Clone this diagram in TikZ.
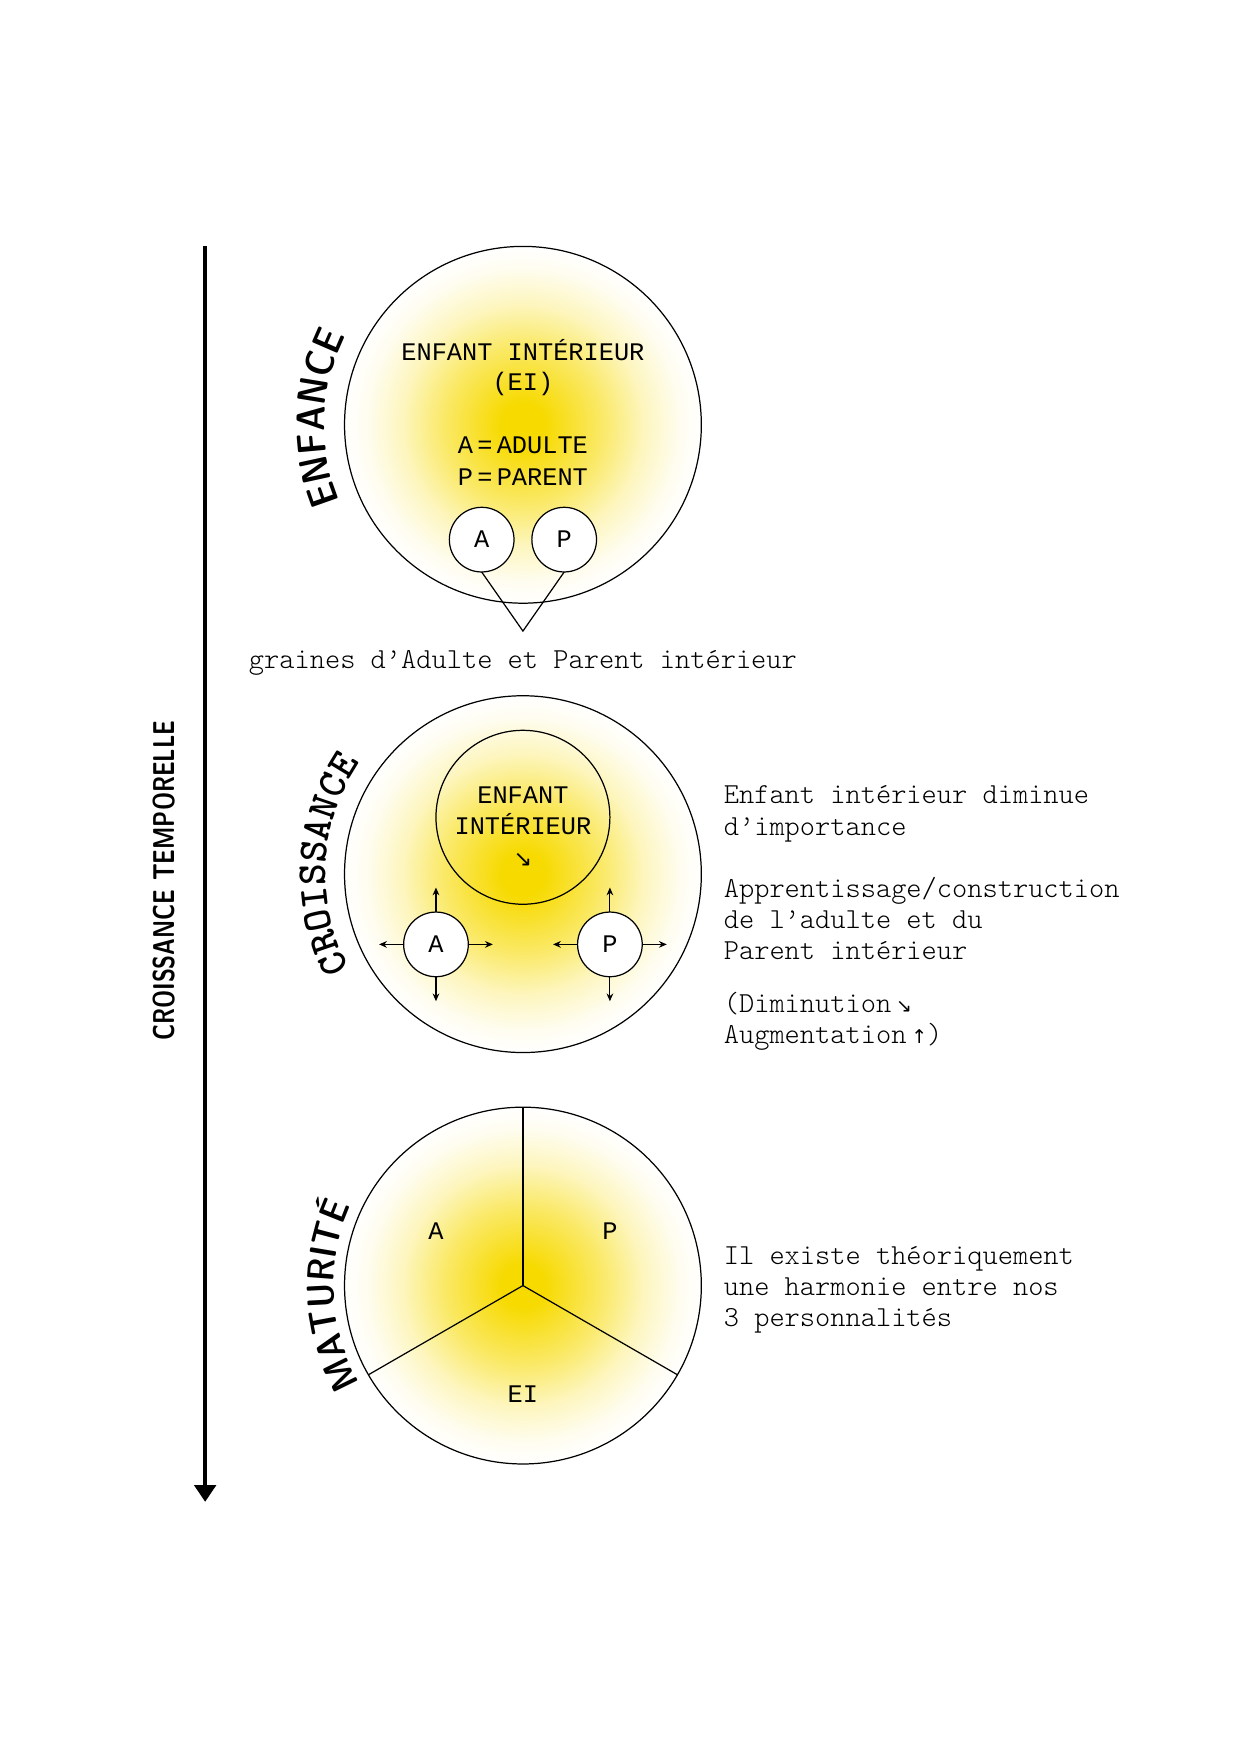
\documentclass[tikz,border=0pt]{standalone}
\usepackage{fontspec}
\newfontfamily\djv{DejaVu Sans}
\newfontfamily\capmono{Liberation Mono}
\usetikzlibrary{arrows.meta,decorations.text}
\definecolor{sun}{RGB}{247,218,0}
\pgfdeclareradialshading{glow}{\pgfpoint{0bp}{0bp}}{color(0bp)=(sun); color(3bp)=(sun); color(11bp)=(sun!60!white); color(17bp)=(sun!25!white); color(22bp)=(sun!6!white); color(25bp)=(white); color(50bp)=(white)}
\newcommand\monofont{\ttfamily\fontseries{l}\fontsize{26}{28}\selectfont}
\newcommand\capfont{\capmono\fontsize{22.7}{28}\selectfont}
\newcommand\arrfont{\djv\fontsize{17}{17}\selectfont}
\begin{document}
\begin{tikzpicture}[x=1pt,y=1pt,
  bigc/.style={circle,draw,line width=1.1pt,minimum size=320pt,inner sep=0pt,outer sep=0pt,shade,shading=glow},
  midc/.style={circle,draw,line width=1.1pt,minimum size=156pt,inner sep=0pt,outer sep=0pt},
  smallc/.style={circle,draw,line width=1.1pt,fill=white,minimum size=58pt,inner sep=0pt,outer sep=0pt,font=\capfont},
  txt/.style={inner sep=0pt,font=\monofont,anchor=base},
  captxt/.style={inner sep=0pt,font=\capfont,anchor=base},
  para/.style={inner sep=0pt,font=\monofont,anchor=base west},
  thinline/.style={line width=1.1pt},
  growarrow/.style={line width=1pt,-{Stealth[length=7pt,width=6pt]}}]

\useasboundingbox (0,0) rectangle (1113,1574);

% time arrow
\coordinate (tstart) at (184,1353);
\coordinate (tend) at (184,227);
\draw[line width=3.6pt,-{Triangle[width=19pt,length=15pt]}] (tstart) -- (tend);
\node[rotate=90,inner sep=0pt,font=\sffamily\bfseries\fontsize{27}{27}\selectfont] (ct) at (147,784) {\scalebox{0.76}[1]{CROISSANCE TEMPORELLE}};

% ---------- ENFANCE ----------
\node[bigc] (c1) at (469,1193) {};
\node[captxt] (e1) at (469,1251) {ENFANT INTÉRIEUR};
\node[captxt] (e2) at (469,1224) {(EI)};
\node[captxt] (e3) at (469,1167) {A\,=\,ADULTE};
\node[captxt] (e4) at (469,1139) {P\,=\,PARENT};
\node[smallc] (A1) at (432,1090) {A};
\node[smallc] (P1) at (506,1090) {P};
\coordinate (apex) at (469,1008);
\draw[thinline] (A1.south) -- (apex) -- (P1.south);
\node[txt] (gr) at (469,974) {graines d’Adulte et Parent intérieur};
\path[decorate,decoration={text along path,text align=center,
  text={|\sffamily\fontseries{sbc}\fontsize{36}{36}\selectfont|ENFANCE}}]
  ([shift={(205:178)}]c1.center) arc[start angle=205,end angle=151,radius=178];

% ---------- CROISSANCE ----------
\node[bigc] (c2) at (469,790) {};
\node[midc] (ei2) at (469,841) {};
\node[captxt] (f1) at (469,853) {ENFANT};
\node[captxt] (f2) at (469,826) {INTÉRIEUR};
\node[inner sep=0pt,font=\djv\fontsize{20}{20}\selectfont] (f3) at (469,803) {↘};
\node[smallc] (A2) at (391,727) {A};
\node[smallc] (P2) at (547,727) {P};
\draw[growarrow] (A2.north) -- ++(0,22);
\draw[growarrow] (A2.south) -- ++(0,-22);
\draw[growarrow] (A2.west) -- ++(-22,0);
\draw[growarrow] (A2.east) -- ++(22,0);
\draw[growarrow] (P2.north) -- ++(0,22);
\draw[growarrow] (P2.south) -- ++(0,-22);
\draw[growarrow] (P2.west) -- ++(-22,0);
\draw[growarrow] (P2.east) -- ++(22,0);
\path[decorate,decoration={text along path,text align=center,
  text={|\ttfamily\bfseries\fontsize{37}{37}\selectfont|CROISSANCE}}]
  ([shift={(209:177)}]c2.center) arc[start angle=209,end angle=145,radius=177];

\node[para] (t1a) at (649,853) {Enfant intérieur diminue};
\node[para] (t1b) at (649,825) {d’importance};
\node[para] (t2a) at (649,769) {Apprentissage/construction};
\node[para] (t2b) at (649,741) {de l’adulte et du};
\node[para] (t2c) at (649,713) {Parent intérieur};
\node[para] (t3a) at (649,666) {(Diminution\,{\arrfont ↘}};
\node[para] (t3b) at (649,638) {Augmentation\,{\arrfont ↑})};

% ---------- MATURITE ----------
\node[bigc] (c3) at (469,421) {};
\draw[thinline] (c3.center) -- (c3.90);
\draw[thinline] (c3.center) -- (c3.210);
\draw[thinline] (c3.center) -- (c3.330);
\node[captxt] (m1) at (391,462) {A};
\node[captxt] (m2) at (547,462) {P};
\node[captxt] (m3) at (469,316) {EI};
\path[decorate,decoration={text along path,text align=center,
  text={|\sffamily\fontseries{sbc}\fontsize{34}{34}\selectfont|MATURIT{\'E}}}]
  ([shift={(212:170)}]c3.center) arc[start angle=212,end angle=154,radius=170];

\node[para] (t4a) at (649,440) {Il existe théoriquement};
\node[para] (t4b) at (649,412) {une harmonie entre nos};
\node[para] (t4c) at (649,384) {3 personnalités};
\end{tikzpicture}
\end{document}
